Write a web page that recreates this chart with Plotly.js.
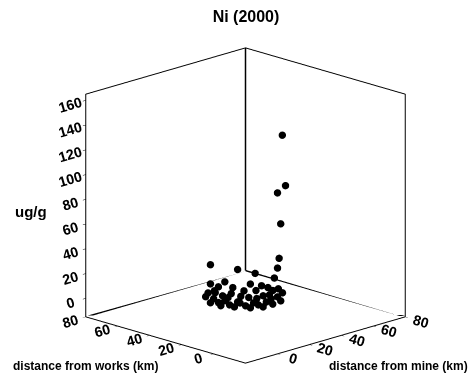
<!DOCTYPE html>
<html>
<head>
<meta charset="utf-8">
<script src="https://cdn.plot.ly/plotly-3.0.1.min.js"></script>
<style>html,body{margin:0;padding:0;background:#fff;}#chart{width:472px;height:379px;}</style>
</head>
<body>
<div id="chart"></div>
<script>
// distance from mine (km) -> x, distance from works (km) -> y, Ni ug/g -> z
var mineKm  = [28, 28, 27, 28, 29, 30, 22, 32, 40, 45, 24, 28, 38, 31, 31, 44, 21.5, 17, 17, 17, 18, 21, 22, 25, 27, 30, 35, 39, 43.6, 20, 21.6, 28, 33, 39, 24, 20, 31, 38, 30, 43,
               18, 13, 13, 24, 16, 20, 25, 31, 37, 22, 32, 40, 20.5];
var worksKm = [5, 3, 7, 6, 8, 10, 44, 37, 34, 27, 46, 41, 28, 32, 39, 23.5, 45, 37, 34, 30, 28, 26, 22, 20, 19, 17, 19, 19, 20.5, 39, 36, 26, 22, 22, 27, 29, 24.5, 24, 47, 40,
               43, 35, 28.5, 35, 23, 17, 14, 14, 15, 25.5, 25, 25, 40];
var niUgG   = [142, 102, 95, 70, 41, 32, 25, 20, 15, 12, 8, 10, 8, 5, 5, 5, 2, 2, 0, 3, 0, 2, 0, 2, 0, 2, 2, 2, 3, 5, 3, 3, 4, 6, 5, 8, 8, 8, 3, 3,
               1, 1, 1, 1, 1, 1, 1, 1, 1, 1, 1, 1, 6];

var axisRange = [-20, 80];
var zRange = [-15, 165];
var xyTicks = [0, 20, 40, 60, 80];
var zTicks = [0, 20, 40, 60, 80, 100, 120, 140, 160];

var FONT = 'Liberation Sans, Arial, sans-serif';
var tickFont = {family: FONT, size: 13, color: '#000', weight: 'bold'};

function ax(range, ticks) {
  return {
    range: range, autorange: false,
    tickvals: ticks, ticktext: ticks.map(String),
    showgrid: false, zeroline: false,
    showline: true, linecolor: '#000', linewidth: 2,
    mirror: true,
    showbackground: false,
    ticks: 'outside', ticklen: 4, tickcolor: '#000',
    tickfont: tickFont,
    title: {text: ''},
    showspikes: false
  };
}

var trace = {
  type: 'scatter3d', mode: 'markers',
  x: mineKm, y: worksKm, z: niUgG,
  marker: {size: 4.3, color: '#000', symbol: 'circle', line: {width: 0}},
  hoverinfo: 'none'
};

// back edges of the box (not drawn by the axis lines), built from the axis ranges
var x0 = axisRange[0], x1 = axisRange[1], z0 = zRange[0], z1 = zRange[1];
function edge(a, b) {
  return {
    type: 'scatter3d', mode: 'lines',
    x: [a[0], b[0]], y: [a[1], b[1]], z: [a[2], b[2]],
    line: {color: '#000', width: 3},
    hoverinfo: 'none'
  };
}
var backEdges = [
  edge([x1, x1, z0], [x1, x1, z1]),
  edge([x0, x1, z0], [x1, x1, z0]),
  edge([x1, x0, z0], [x1, x1, z0])
];

var labFont = {family: FONT, size: 12, color: '#000', weight: 'bold'};
var S = 1.302;

var layout = {
  width: 472, height: 379,
  margin: {l: 0, r: 0, t: 0, b: 0},
  paper_bgcolor: '#fff',
  showlegend: false,
  title: {text: 'Ni (2000)', x: 246/472, xanchor: 'center', y: 1 - 16/379, yanchor: 'middle',
          font: {family: FONT, size: 16, color: '#000', weight: 'bold'}},
  scene: {
    domain: {x: [0.04, 1], y: [0, 0.916]},
    xaxis: ax(axisRange, xyTicks),
    yaxis: ax(axisRange, xyTicks),
    zaxis: ax(zRange, zTicks),
    aspectmode: 'manual',
    aspectratio: {x: S, y: S, z: 1.03 * S},
    camera: {
      projection: {type: 'orthographic'},
      eye: {x: -1.25, y: -1.25, z: 0.535},
      up: {x: 0, y: 0, z: 1},
      center: {x: 0, y: 0, z: 0}
    },
    bgcolor: '#fff'
  },
  annotations: [
    {text: 'ug/g', xref: 'paper', yref: 'paper', x: 31/472, y: 1 - 211/379, xanchor: 'center', yanchor: 'middle', showarrow: false,
     font: {family: FONT, size: 15, color: '#000', weight: 'bold'}},
    {text: 'distance from works (km)', xref: 'paper', yref: 'paper', x: 85/472, y: 1 - 366/379, xanchor: 'center', yanchor: 'middle', showarrow: false, font: labFont},
    {text: 'distance from mine (km)', xref: 'paper', yref: 'paper', x: 398/472, y: 1 - 366/379, xanchor: 'center', yanchor: 'middle', showarrow: false, font: labFont}
  ]
};

Plotly.newPlot('chart', backEdges.concat([trace]), layout, {displayModeBar: false});
</script>
</body>
</html>
